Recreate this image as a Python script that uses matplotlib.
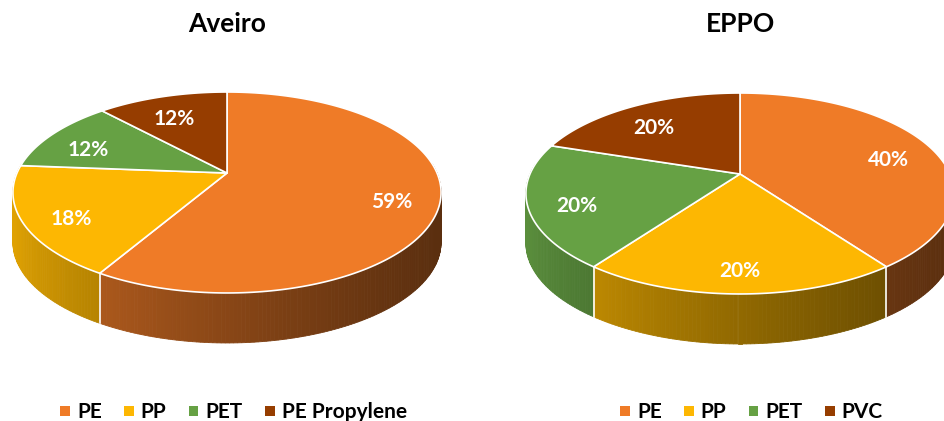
import numpy as np
import matplotlib
matplotlib.use('Agg')
import matplotlib.pyplot as plt
from matplotlib.patches import Polygon

plt.rcParams['font.family'] = ['Lato', 'DejaVu Sans']

# data
aveiro_labels = ['PE', 'PP', 'PET', 'PE Propylene']
aveiro_values = [59, 18, 12, 12]
eppo_labels = ['PE', 'PP', 'PET', 'PVC']
eppo_values = [40, 20, 20, 20]
slice_colors = ['#EF7B27', '#FDB702', '#66A144', '#963D00']

W, H = 945, 421
fig = plt.figure(figsize=(W / 100, H / 100), dpi=100)
ax = fig.add_axes([0, 0, 1, 1])
ax.set_xlim(0, W)
ax.set_ylim(H, 0)
ax.axis('off')

# pie geometry in pixels
R = 210        # radius
C = 96.7       # vertical squash
P = 0.194      # perspective strength
T = 50         # thickness


def proj(cx, cy, ang):
    u, v = np.cos(ang), np.sin(ang)
    d = 1 + P * v
    return cx + R * u / d, cy - C * v / d


def shade(col, x, cx):
    rel = np.clip((x - (cx - R)) / (2 * R), 0, 1)
    s = 0.88 - 0.5 * rel ** 0.7
    rgb = np.array(matplotlib.colors.to_rgb(col)) * s
    return tuple(rgb)


def pie3d(cx, cy, values, title):
    vals = np.array(values, dtype=float)
    fr = vals / vals.sum()
    bounds = np.concatenate([[0], np.cumsum(fr)])
    # math angles, start at 12 o'clock, clockwise
    angs = np.pi / 2 - 2 * np.pi * bounds

    # side wall strips
    strips = []
    for i in range(len(vals)):
        a = np.linspace(angs[i], angs[i + 1], max(int(fr[i] * 400), 4))
        for a1, a2 in zip(a[:-1], a[1:]):
            vm = np.sin((a1 + a2) / 2)
            if vm < 0.1:
                strips.append((vm, a1, a2, i))
    strips.sort(key=lambda s: -s[0])
    for vm, a1, a2, i in strips:
        x1, y1 = proj(cx, cy, a1)
        x2, y2 = proj(cx, cy, a2)
        col = shade(slice_colors[i], (x1 + x2) / 2, cx)
        ax.add_patch(Polygon([(x1, y1), (x2, y2), (x2, y2 + T), (x1, y1 + T)],
                             closed=True, facecolor=col, edgecolor=col, lw=0.6))
    # white separators on the side
    for a in angs[:-1]:
        if np.sin(a) < -0.05:
            x, y = proj(cx, cy, a)
            ax.plot([x, x], [y, y + T], color='white', lw=1.2)

    # top face
    for i in range(len(vals)):
        a = np.linspace(angs[i], angs[i + 1], 200)
        xs, ys = proj(cx, cy, a)
        pts = [(cx, cy)] + list(zip(xs, ys))
        ax.add_patch(Polygon(pts, closed=True, facecolor=slice_colors[i],
                             edgecolor='white', lw=1.2, joinstyle='round'))

    # percent labels
    for i in range(len(vals)):
        mid = (angs[i] + angs[i + 1]) / 2
        u, v = 0.78 * np.cos(mid), 0.78 * np.sin(mid)
        d = 1 + P * v
        ax.text(cx + R * u / d, cy - C * v / d + 8, f'{values[i]:.0f}%',
                color='white', fontsize=15, fontweight='bold',
                ha='center', va='center')

    ax.text(cx, 24, title, fontsize=19, fontweight='bold',
            ha='center', va='center', color='black')


def legend(x0, labels):
    r = fig.canvas.get_renderer()
    x = x0
    y = 411
    for lab, col in zip(labels, slice_colors):
        ax.scatter([x], [y], marker='s', s=50, color=col, edgecolors='none')
        t = ax.text(x + 12, y + 1, lab, fontsize=15, fontweight='bold',
                    ha='left', va='center', color='black')
        bb = t.get_window_extent(renderer=r)
        x = x + 12 + bb.width + 27


pie3d(227, 173, aveiro_values, 'Aveiro')
pie3d(740, 174, eppo_values, 'EPPO')
legend(65, aveiro_labels)
legend(625, eppo_labels)

fig.savefig('out.png', dpi=100)
